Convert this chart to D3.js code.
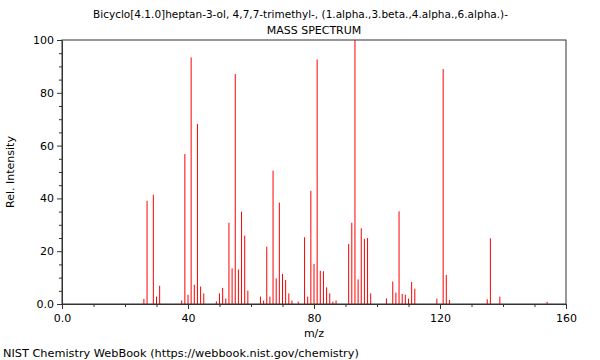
<!DOCTYPE html>
<html>
<head>
<meta charset="utf-8">
<script src="https://cdn.jsdelivr.net/npm/d3@7"></script>
<style>
  html, body { margin: 0; padding: 0; background: #fff; }
  svg { display: block; font-family: "DejaVu Sans", sans-serif; }
</style>
</head>
<body>
<svg id="chart" width="600" height="360"></svg>
<script>
const titleLine1 = "Bicyclo[4.1.0]heptan-3-ol, 4,7,7-trimethyl-, (1.alpha.,3.beta.,4.alpha.,6.alpha.)-";
const titleLine2 = "MASS SPECTRUM";
const xLabel = "m/z";
const yLabel = "Rel. Intensity";
const footer = "NIST Chemistry WebBook (https://webbook.nist.gov/chemistry)";

const mz = [26, 27, 29, 30, 31, 38, 39, 40, 41, 42, 43, 44, 45, 49, 50, 51, 52, 53, 54, 55, 56, 57, 58, 59,
            63, 64, 65, 66, 67, 68, 69, 70, 71, 72, 73, 75, 77, 78, 79, 80, 81, 82, 83, 84, 85, 86, 87,
            91, 92, 93, 94, 95, 96, 97, 98, 103, 105, 106, 107, 108, 109, 110, 111, 112,
            119, 121, 122, 123, 135, 136, 139, 154];
const intensity = [1.9, 39.1, 41.4, 2.8, 6.9, 1.3, 56.8, 3.5, 93.4, 7.3, 68.2, 6.6, 4.0, 1.0, 4.0, 6.1, 2.1, 30.8, 13.5, 87.1, 13.1, 35.0, 25.9, 5.1,
            2.8, 1.3, 21.7, 2.8, 50.5, 9.7, 38.4, 11.4, 9.1, 4.0, 1.3, 0.9, 25.3, 2.8, 42.9, 15.2, 92.6, 12.6, 12.4, 6.3, 4.0, 0.9, 1.3,
            22.7, 30.8, 100, 9.3, 28.7, 24.7, 25.0, 4.0, 2.1, 8.5, 4.3, 35.1, 3.8, 3.5, 2.0, 8.3, 5.8,
            2.0, 89.0, 11.0, 1.5, 1.8, 24.9, 2.8, 0.8];

const xMajorTicks = [0, 40, 80, 120, 160];
const xMinorTicks = [10, 20, 30, 50, 60, 70, 90, 100, 110, 130, 140, 150];
const yMajorTicks = [0, 20, 40, 60, 80, 100];
const yMinorTicks = [5, 10, 15, 25, 30, 35, 45, 50, 55, 65, 70, 75, 85, 90, 95];

const margin = {left: 62, right: 34, top: 40, bottom: 56};
const W = 600, H = 360;
const svg = d3.select("#chart");

const x = d3.scaleLinear().domain([0, 160]).range([margin.left, W - margin.right]);
const y = d3.scaleLinear().domain([0, 100]).range([H - margin.bottom, margin.top]);

const fmt = d => d === 0 ? "0.0" : String(d);

// bars
svg.append("g").selectAll("line").data(mz).join("line")
  .attr("x1", d => x(d)).attr("x2", d => x(d))
  .attr("y1", y(0))
  .attr("y2", (d, i) => y(intensity[i]))
  .attr("stroke", "#ff0000").attr("stroke-width", 1);

// frame
svg.append("rect")
  .attr("x", x(0)).attr("y", y(100))
  .attr("width", x(160) - x(0)).attr("height", y(0) - y(100))
  .attr("fill", "none").attr("stroke", "#333").attr("stroke-width", 1);

// x axis
const xAxis = svg.append("g").attr("transform", `translate(0,${y(0)})`)
  .call(d3.axisBottom(x).tickValues(xMajorTicks).tickFormat(fmt).tickSize(5).tickSizeOuter(0));
svg.append("g").attr("transform", `translate(0,${y(0)})`)
  .call(d3.axisBottom(x).tickValues(xMinorTicks).tickFormat("").tickSize(3).tickSizeOuter(0))
  .select(".domain").remove();

// y axis
const yAxis = svg.append("g").attr("transform", `translate(${x(0)},0)`)
  .call(d3.axisLeft(y).tickValues(yMajorTicks).tickFormat(fmt).tickSize(5).tickSizeOuter(0));
svg.append("g").attr("transform", `translate(${x(0)},0)`)
  .call(d3.axisLeft(y).tickValues(yMinorTicks).tickFormat("").tickSize(3).tickSizeOuter(0))
  .select(".domain").remove();

svg.selectAll(".tick line").attr("stroke", "#333");
svg.selectAll(".domain").attr("stroke", "#333");
svg.selectAll(".tick text").attr("font-family", "DejaVu Sans").attr("font-size", 11).attr("fill", "#000");
xAxis.selectAll(".tick text").attr("dy", "0.95em");

// texts
svg.append("text").attr("x", 300.5).attr("y", 18).attr("text-anchor", "middle")
  .attr("font-size", 10.5).text(titleLine1);
svg.append("text").attr("x", 314).attr("y", 34).attr("text-anchor", "middle")
  .attr("font-size", 11).text(titleLine2);
svg.append("text").attr("x", 314).attr("y", 337).attr("text-anchor", "middle")
  .attr("font-size", 11).text(xLabel);
svg.append("text").attr("transform", `translate(14,${(y(0) + y(100)) / 2}) rotate(-90)`)
  .attr("text-anchor", "middle").attr("font-size", 11).text(yLabel);
svg.append("text").attr("x", 3).attr("y", 357).attr("font-size", 11.3).text(footer);
</script>
</body>
</html>
